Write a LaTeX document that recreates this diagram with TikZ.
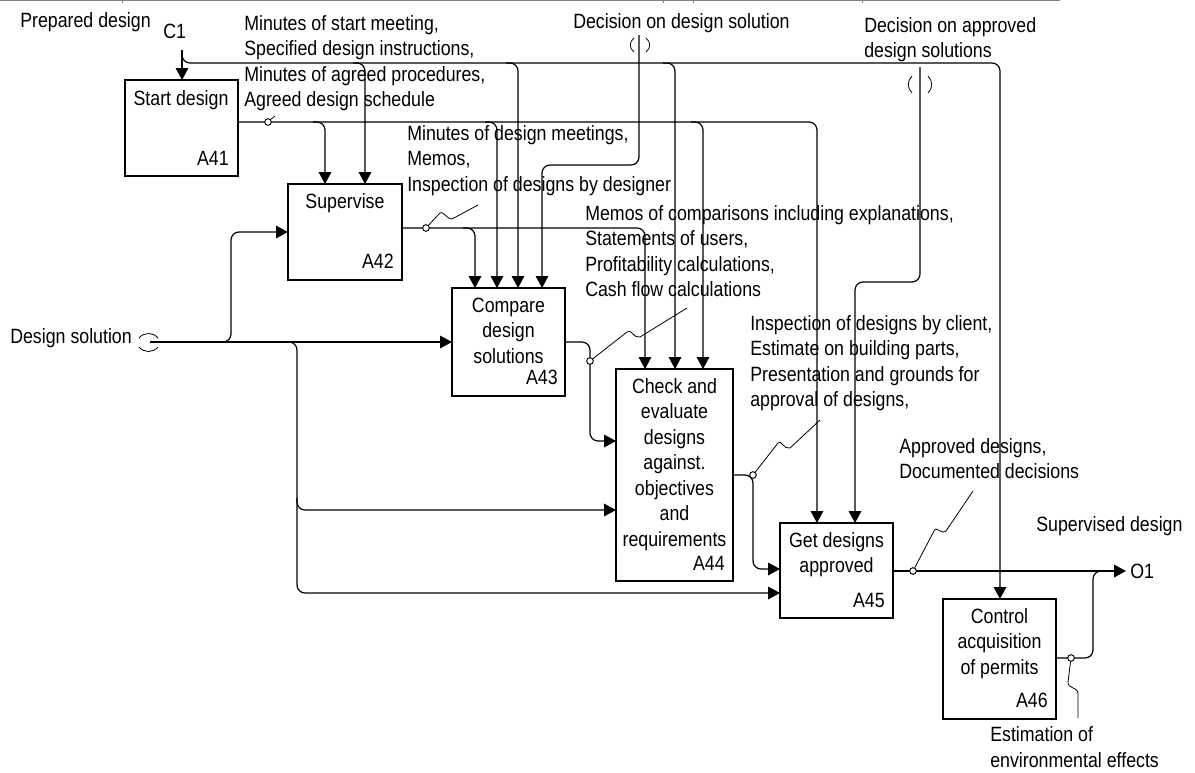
\documentclass[tikz,border=0pt]{standalone}
\usepackage{fontspec}
\setmainfont{Liberation Sans}[FakeStretch=0.86]
\usetikzlibrary{arrows.meta,calc}
\begin{document}
\begin{tikzpicture}[x=0.75pt,y=-0.75pt,
  font=\fontsize{15.5pt}{19.1pt}\selectfont,
  box/.style 2 args={draw, line width=1.2pt, minimum width=#1*0.75pt,
    minimum height=#2*0.75pt, inner sep=0pt, outer sep=0pt},
  lbl/.style={inner sep=0pt, align=left, anchor=base west},
  ttl/.style={inner sep=0pt, align=center, anchor=base},
  num/.style={inner sep=0pt, anchor=base east},
  ln/.style={line width=0.9pt, rounded corners=6pt},
  arr/.style={ln, -{Triangle[length=9pt,width=9.5pt]}},
  dot/.style={circle, draw, fill=white, line width=0.7pt, minimum size=5pt,
    inner sep=0pt},
  squig/.style={line width=0.6pt},
  tunnel/.style={line width=0.6pt}]
\useasboundingbox (0,0) rectangle (1195,772);

% header rule
\draw[gray, line width=0.8pt] (0,0.6) -- (1060,0.6);
\foreach \t in {122,663,693,862} \draw[gray, line width=0.6pt] (\t,0) -- (\t,3);

% activity boxes
\node[box={113}{96}]  (A41) at (181.5,128) {};
\node[box={114}{96}]  (A42) at (345,232) {};
\node[box={113}{108}] (A43) at (508.5,342) {};
\node[box={117}{212}] (A44) at (674.5,475) {};
\node[box={113}{95}]  (A45) at (836.5,570.5) {};
\node[box={113}{120}] (A46) at (999.5,659) {};

% box titles (multi-line nodes are placed by their last baseline)
\node[ttl] (t41) at (181,105) {Start design};
\node[num] (n41) at (229,165) {A41};
\node[ttl] (t42) at (345,208) {Supervise};
\node[num] (n42) at (394,268) {A42};
\node[ttl] (t43) at (508.5,363) {Compare\\design\\solutions};
\node[num] (n43) at (558,384) {A43};
\node[ttl] (t44) at (674.5,546) {Check and\\evaluate\\designs\\against.\\objectives\\and\\requirements};
\node[num] (n44) at (725,570) {A44};
\node[ttl] (t45) at (836.5,572.5) {Get designs\\approved};
\node[num] (n45) at (885,607) {A45};
\node[ttl] (t46) at (999.5,674) {Control\\acquisition\\of permits};
\node[num] (n46) at (1048,707) {A46};

% arrow labels
\node[lbl] (lPrep) at (20,27) {Prepared design};
\node[lbl] (lC1) at (163,38) {C1};
\node[lbl] (lMin) at (244,106.5) {Minutes of start meeting,\\Specified design instructions,\\Minutes of agreed procedures,\\Agreed design schedule};
\node[lbl] (lDec) at (573,28) {Decision on design solution};
\node[lbl] (lDecA) at (864,57.5) {Decision on approved\\design solutions};
\node[lbl] (lMeet) at (407,191) {Minutes of design meetings,\\Memos,\\Inspection of designs by designer};
\node[lbl] (lComp) at (585,296.5) {Memos of comparisons including explanations,\\Statements of users,\\Profitability calculations,\\Cash flow calculations};
\node[lbl] (lInsp) at (750,406.5) {Inspection of designs by client,\\Estimate on building parts,\\Presentation and grounds for\\approval of designs,};
\node[lbl] (lAppr) at (899,478.5) {Approved designs,\\Documented decisions};
\node[lbl] (lSup) at (1036,531) {Supervised design};
\node[lbl] (lO1) at (1130,578) {O1};
\node[lbl] (lEst) at (990,767) {Estimation of\\environmental effects};
\node[lbl] (lDS) at (10,343) {Design solution};

% control C1 and its bus
\coordinate (C1end) at (182,50);
\coordinate (cb1) at (365,63);
\coordinate (cb2) at (518,63);
\coordinate (cb3) at (675,63);
\coordinate (cb4) at (1000,63);
\draw[arr] (C1end) -- (A41.north -| C1end);
\draw[arr] (C1end) |- (cb4) -- (A46.north -| cb4);
\draw[arr] ($(cb1)+(-12,0)$) -- (cb1) -- (A42.north -| cb1);
\draw[arr] ($(cb2)+(-12,0)$) -- (cb2) -- (A43.north -| cb2);
\draw[arr] ($(cb3)+(-12,0)$) -- (cb3) -- (A44.north -| cb3);

% output of A41
\coordinate (o41) at (238,122);
\coordinate (b41a) at (325,122);
\coordinate (b41b) at (497,122);
\coordinate (b41c) at (703,122);
\coordinate (b41d) at (817,122);
\draw[arr] (o41) -- (b41d) -- (A45.north -| b41d);
\draw[arr] ($(b41a)+(-12,0)$) -- (b41a) -- (A42.north -| b41a);
\draw[arr] ($(b41b)+(-12,0)$) -- (b41b) -- (A43.north -| b41b);
\draw[arr] ($(b41c)+(-12,0)$) -- (b41c) -- (A44.north -| b41c);
\node[dot] (j41) at (268,122) {};
\draw[squig] (j41.north east) -- ++(4,-3);

% output of A42
\coordinate (o42) at (402,228);
\coordinate (b42a) at (475,228);
\coordinate (b42b) at (645,228);
\draw[arr] (o42) -- (b42b) -- (A44.north -| b42b);
\draw[arr] ($(b42a)+(-12,0)$) -- (b42a) -- (A43.north -| b42a);
\node[dot] (j42) at (426,228) {};
\draw[squig] (j42) -- (439,214) .. controls (443,209) and (447,220) .. (452,219) -- (478,205);

% output of A43
\coordinate (o43) at (565,342);
\coordinate (k43) at (590,441);
\draw[arr] (o43) -| (k43) -- (A44.west |- k43);
\node[dot] (j43) at (590,361) {};
\draw[squig] (j43) -- (627,332) .. controls (631,328) and (634,339) .. (640,337) -- (687,308);

% input Design solution
\coordinate (ds) at (150,342);
\coordinate (dsa) at (231,342);
\coordinate (dsa2) at (231,232);
\coordinate (dsb) at (297,342);
\coordinate (dsb2) at (297,510);
\coordinate (dsb3) at (297,593);
\draw[tunnel] (139,338) .. controls (144,332) and (153,332) .. (158,338);
\draw[tunnel] (139,347) .. controls (144,353) and (153,353) .. (158,347);
\draw[arr] (ds) -- (A43.west |- ds);
\draw[arr] ($(dsa)+(-12,0)$) -- (dsa) -- (dsa2) -- (A42.west |- dsa2);
\draw[arr] ($(dsb)+(-12,0)$) -- (dsb) -- (dsb2) -- (A44.west |- dsb2);
\draw[arr] ($(dsb2)+(0,-12)$) -- (dsb3) -- (A45.west |- dsb3);

% output of A44
\coordinate (o44) at (733,475);
\coordinate (k44) at (753,569);
\draw[arr] (o44) -| (k44) -- (A45.west |- k44);
\node[dot] (j44) at (753,475) {};
\draw[squig] (j44) -- (778,443) .. controls (781,439) and (784,450) .. (790,448) -- (820,420);

% output of A45 to O1
\coordinate (o45) at (893,571);
\coordinate (O1pt) at (1126,571);
\draw[arr] (o45) -- (O1pt);
\node[dot] (j45) at (913,571) {};
\draw[squig] (j45) -- (934,531) .. controls (937,525) and (940,535) .. (946,531) -- (973,491);

% output of A46 joining O1
\coordinate (o46) at (1056,658);
\coordinate (k46) at (1093,571);
\draw[ln] (o46) -| (k46) -- ($(k46)+(16,0)$);
\node[dot] (j46) at (1071,658) {};
\draw[squig] (j46) -- (1068,682) .. controls (1068,689) and (1076,686) .. (1078,693) -- (1078,718);

% control: decision on design solution
\coordinate (dd) at (639,35);
\coordinate (dd2) at (639,165);
\coordinate (dd3) at (542,165);
\draw[tunnel] (634,38) .. controls (629,42) and (629,48) .. (634,52);
\draw[tunnel] (646,38) .. controls (651,42) and (651,48) .. (646,52);
\draw[arr] (dd) -- (dd2) -- (dd3) -- (A43.north -| dd3);

% control: decision on approved design solutions
\coordinate (da) at (920,67);
\coordinate (da2) at (920,282);
\coordinate (da3) at (855,282);
\draw[tunnel] (912,76) .. controls (907,81) and (907,88) .. (912,93);
\draw[tunnel] (928,76) .. controls (933,81) and (933,88) .. (928,93);
\draw[arr] (da) -- (da2) -- (da3) -- (A45.north -| da3);
\end{tikzpicture}
\end{document}
